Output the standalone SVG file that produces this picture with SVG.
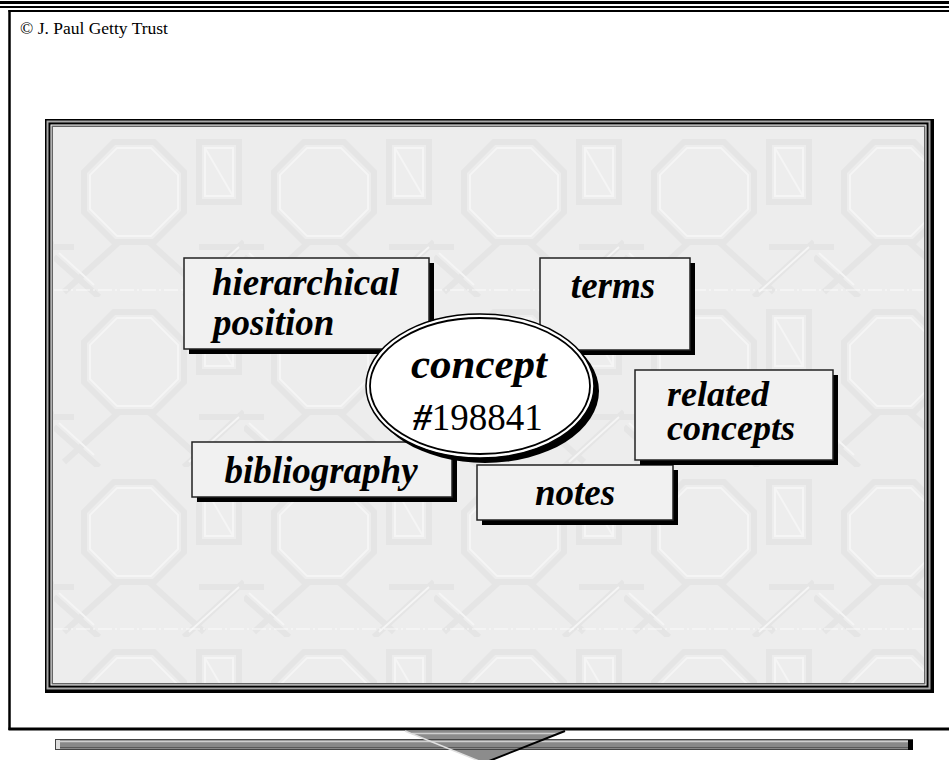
<svg xmlns="http://www.w3.org/2000/svg" width="949" height="760" viewBox="0 0 949 760">
<style>
.nb{fill:#f1f1f1;stroke:#222;stroke-width:1.5}
.sh{fill:#000}
.t{font-family:"Liberation Serif","Times New Roman",serif;font-weight:bold;font-style:italic;font-size:37px;fill:#000}
.fr{stroke:#000;fill:none}
</style>
<defs>
<pattern id="bg" width="190" height="170" patternUnits="userSpaceOnUse" x="54" y="127">
<rect width="190" height="170" fill="#ededed"/>
<g fill="none" stroke="#e5e5e5" stroke-width="6">
<polygon points="30,45 60,15 100,15 130,45 130,85 100,115 60,115 30,85"/>
<rect x="145" y="15" width="40" height="60"/>
<path d="M0,130 L45,170 M130,170 L190,115 M145,120 H190 M0,120 H20 M95,115 L150,165 M65,115 L10,165"/>
</g>
<g fill="none" stroke="#f5f5f5" stroke-width="2">
<polygon points="36,48 63,21 97,21 124,48 124,82 97,109 63,109 36,82"/>
<rect x="151" y="21" width="28" height="48"/>
<path d="M151,21 L179,69 M5,126 L40,158 M135,165 L185,120"/>
</g>
</pattern>
</defs>

<g id="frame">
<line class="fr" x1="0" y1="2.5" x2="949" y2="2.5" stroke-width="3"/>
<line class="fr" x1="0" y1="7" x2="949" y2="7" stroke-width="2"/>
<line class="fr" x1="8.5" y1="11" x2="949" y2="11" stroke-width="2"/>
<line class="fr" x1="9.5" y1="10" x2="9.5" y2="730" stroke-width="2.5"/>
<line class="fr" x1="8.5" y1="729" x2="949" y2="729" stroke-width="3"/>
<text x="20" y="34" font-family="'Liberation Serif','Times New Roman',serif" font-size="17.5" fill="#000">© J. Paul Getty Trust</text>
</g>

<g id="panel">
<rect x="45" y="119" width="889" height="574" fill="#000"/>
<rect x="46.5" y="120.5" width="884" height="569" fill="#a8a8a8"/>
<rect x="48.5" y="122.5" width="880" height="565" fill="#000"/>
<rect x="50.5" y="124.5" width="876" height="561" fill="#fff"/>
<rect x="51.5" y="125.5" width="874" height="559" fill="#666"/>
<rect x="53" y="127" width="871" height="556" fill="url(#bg)"/>
<line x1="54" y1="290" x2="923" y2="290" stroke="#fff" stroke-width="1" stroke-dasharray="14,3,2,3" opacity="0.8"/>
<line x1="54" y1="629" x2="923" y2="629" stroke="#fff" stroke-width="1" stroke-dasharray="14,3,2,3" opacity="0.8"/>
</g>

<g id="connectors"></g>

<g id="node-hierarchical">
<rect class="sh" x="189" y="263" width="245" height="91"/>
<rect class="nb" x="184" y="258" width="245" height="91"/>
<text class="t" x="212" y="295">hierarchical</text>
<text class="t" x="213" y="335">position</text>
</g>

<g id="node-terms">
<rect class="sh" x="545" y="263" width="150" height="92"/>
<rect class="nb" x="540" y="258" width="150" height="92"/>
<text class="t" x="613" y="298" text-anchor="middle">terms</text>
</g>

<g id="node-bibliography">
<rect class="sh" x="197" y="447" width="260" height="55"/>
<rect class="nb" x="192" y="442" width="260" height="55"/>
<text class="t" x="321" y="483" text-anchor="middle">bibliography</text>
</g>

<g id="node-notes">
<rect class="sh" x="482" y="470" width="196" height="55"/>
<rect class="nb" x="477" y="465" width="196" height="55"/>
<text class="t" x="575" y="505" text-anchor="middle">notes</text>
</g>

<g id="node-related">
<rect class="sh" x="640" y="375" width="198" height="90"/>
<rect class="nb" x="635" y="370" width="198" height="90"/>
<text class="t" x="667" y="406" style="font-size:36px">related</text>
<text class="t" x="667" y="440" style="font-size:36px">concepts</text>
</g>

<g id="node-concept">
<ellipse cx="485" cy="391" rx="114" ry="72" fill="#000"/>
<ellipse cx="480" cy="386" rx="114" ry="72" fill="#fff" stroke="#000" stroke-width="1.5"/>
<ellipse cx="480" cy="386" rx="110" ry="68" fill="#fff" stroke="#000" stroke-width="1.8"/>
<text class="t" x="479" y="378" text-anchor="middle" style="font-size:43px">concept</text>
<text x="478" y="430" text-anchor="middle" font-family="'Liberation Serif','Times New Roman',serif" font-size="37" fill="#000"><tspan font-weight="bold" font-style="italic">#</tspan>198841</text>
</g>

<g id="bottom-bar">
<polygon points="405,731 565,731 484,763" fill="#8c8c8c"/>
<line x1="412" y1="733.5" x2="558" y2="733.5" stroke="#cfcfcf" stroke-width="1.5"/>
<rect x="55.5" y="739.5" width="857" height="10" fill="#888" stroke="#444" stroke-width="1"/>
<line x1="57" y1="741.5" x2="908" y2="741.5" stroke="#cfcfcf" stroke-width="1.5"/>
<line x1="57" y1="747.5" x2="908" y2="747.5" stroke="#5a5a5a" stroke-width="1"/>
<rect x="56" y="740" width="4" height="9" fill="#ddd"/>
<rect x="908" y="740" width="5" height="10" fill="#000"/>
<line x1="405" y1="731" x2="484" y2="763" stroke="#e0e0e0" stroke-width="1.5"/>
<line x1="565" y1="731" x2="484" y2="763" stroke="#000" stroke-width="2"/>
</g>
</svg>
